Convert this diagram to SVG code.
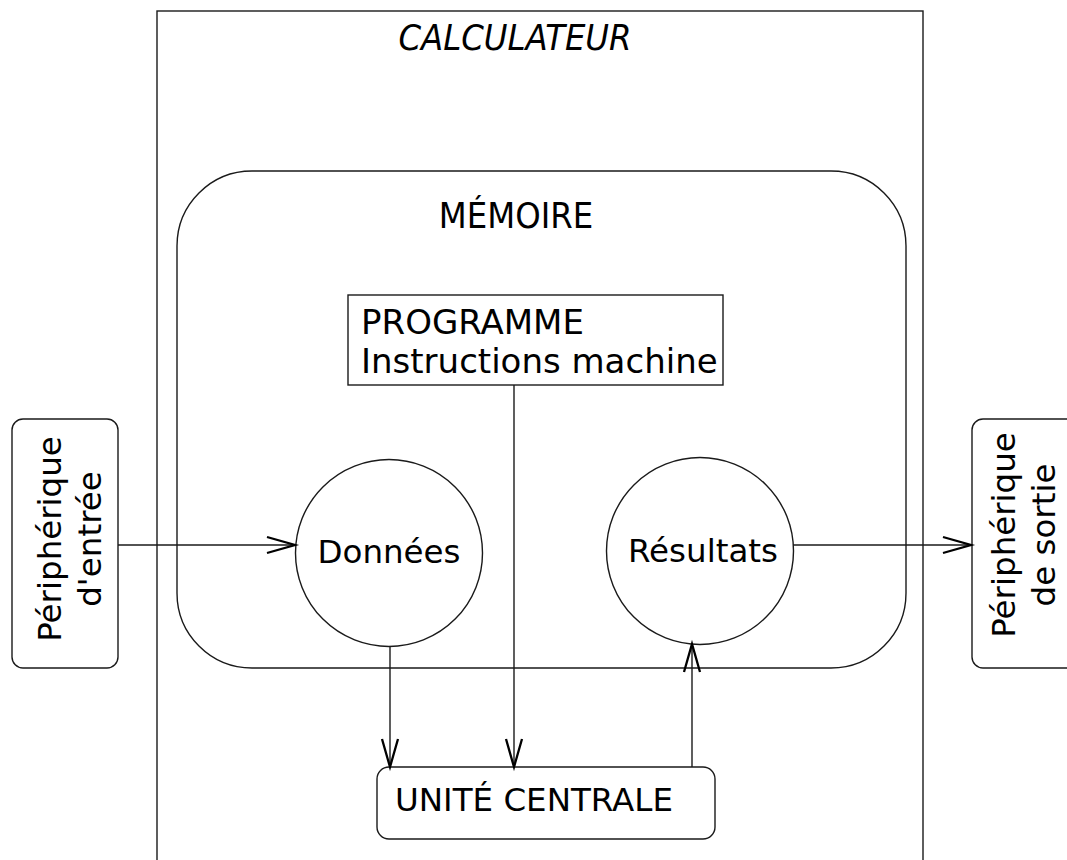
<svg xmlns="http://www.w3.org/2000/svg" width="1067" height="860" viewBox="0 0 1067 860">
  <style>
    .box { fill: none; stroke: #1a1a1a; stroke-width: 1.4; }
    .wire { fill: none; stroke: #1a1a1a; stroke-width: 1.4; }
    .lbl { font-family: "DejaVu Sans", "Liberation Sans", sans-serif; font-size: 32.5px; fill: #000; }
    .prog { font-size: 34px; }
    .title { font-family: "DejaVu Sans Condensed", "DejaVu Sans", sans-serif; font-stretch: condensed; font-size: 36px; fill: #000; }
  </style>
  <defs>
    <marker id="open" markerUnits="userSpaceOnUse" markerWidth="32" markerHeight="20" refX="28" refY="8" orient="auto" overflow="visible">
      <path d="M0,0 L28,8 L0,16" fill="none" stroke="#000" stroke-width="2.3"/>
    </marker>
  </defs>
  <rect width="1067" height="860" fill="#fff"/>

  <!-- computer enclosure -->
  <g id="calculateur">
    <rect class="box" x="157" y="11" width="766" height="900"/>
    <text class="title" x="515" y="50" text-anchor="middle" font-style="italic">CALCULATEUR</text>
  </g>

  <!-- memory -->
  <g id="memoire">
    <rect class="box" x="177" y="171" width="729" height="497" rx="75" ry="75"/>
    <text class="title" x="516" y="228" text-anchor="middle">MÉMOIRE</text>
  </g>

  <g id="programme">
    <rect class="box" x="348" y="295" width="375" height="90"/>
    <text class="lbl prog" x="361" y="334">PROGRAMME</text>
    <text class="lbl prog" x="361" y="373">Instructions machine</text>
  </g>

  <g id="donnees">
    <circle class="box" cx="389" cy="553" r="93.5"/>
    <text class="lbl" x="389" y="563" text-anchor="middle">Données</text>
  </g>

  <g id="resultats">
    <circle class="box" cx="700" cy="551" r="93.5"/>
    <text class="lbl" x="703" y="562" text-anchor="middle">Résultats</text>
  </g>

  <g id="unite-centrale">
    <rect class="box" x="377" y="767" width="338" height="72" rx="12" ry="12"/>
    <text class="lbl" x="395" y="811">UNITÉ CENTRALE</text>
  </g>

  <g id="peripherique-entree">
    <rect class="box" x="12" y="419" width="106" height="249" rx="11" ry="11"/>
    <g transform="translate(61,539) rotate(-90)">
      <text class="lbl" x="0" y="0" text-anchor="middle">Périphérique</text>
      <text class="lbl" x="0" y="40" text-anchor="middle">d'entrée</text>
    </g>
  </g>

  <g id="peripherique-sortie">
    <rect class="box" x="972" y="419" width="130" height="249" rx="11" ry="11"/>
    <g transform="translate(1015,535) rotate(-90)">
      <text class="lbl" x="0" y="0" text-anchor="middle">Périphérique</text>
      <text class="lbl" x="0" y="40" text-anchor="middle">de sortie</text>
    </g>
  </g>

  <!-- data flow -->
  <g id="connecteurs">
    <line class="wire" x1="118" y1="545" x2="295" y2="545" marker-end="url(#open)"/>
    <line class="wire" x1="793" y1="545" x2="971" y2="545" marker-end="url(#open)"/>
    <line class="wire" x1="390" y1="647" x2="390" y2="767" marker-end="url(#open)"/>
    <line class="wire" x1="514" y1="385" x2="514" y2="767" marker-end="url(#open)"/>
    <line class="wire" x1="692" y1="767" x2="692" y2="644" marker-end="url(#open)"/>
  </g>
</svg>
